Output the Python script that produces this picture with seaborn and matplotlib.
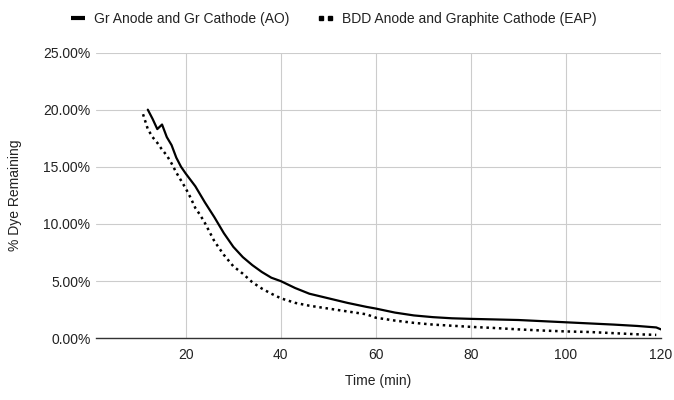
import matplotlib
matplotlib.use("Agg")
import matplotlib.pyplot as plt
import seaborn as sns
import pandas as pd
from matplotlib.lines import Line2D
from matplotlib.legend_handler import HandlerLine2D
from matplotlib.ticker import FuncFormatter

# Data (% dye remaining vs time in minutes)
ao_time = [12, 13, 14, 15, 16, 17, 18, 19, 20, 22, 24, 26, 28, 30, 32, 34, 36, 38, 40,
           43, 46, 50, 54, 58, 60, 64, 68, 72, 76, 80, 85, 90, 95, 100, 105, 110, 115, 119, 120]
ao_values = [20.0, 19.2, 18.3, 18.7, 17.6, 16.9, 15.8, 15.0, 14.4, 13.3, 11.9, 10.6, 9.2, 8.0,
             7.1, 6.4, 5.8, 5.3, 5.0, 4.4, 3.9, 3.5, 3.1, 2.75, 2.6, 2.25, 2.0, 1.85, 1.75, 1.7,
             1.65, 1.6, 1.5, 1.4, 1.3, 1.2, 1.08, 0.95, 0.78]

eap_time = [11, 12, 13, 14, 15, 16, 17, 18, 19, 20, 21, 22, 23, 24, 25, 26, 28, 30, 32, 34,
            36, 38, 40, 43, 46, 50, 54, 58, 60, 64, 68, 72, 76, 80, 85, 90, 95, 100, 105, 110,
            115, 119]
eap_values = [19.6, 18.3, 17.6, 17.1, 16.5, 16.0, 15.3, 14.5, 13.8, 13.1, 12.3, 11.4, 10.8,
              10.1, 9.3, 8.5, 7.3, 6.3, 5.65, 4.9, 4.35, 3.9, 3.5, 3.1, 2.85, 2.6, 2.35, 2.1,
              1.8, 1.55, 1.35, 1.2, 1.1, 1.0, 0.9, 0.78, 0.68, 0.6, 0.55, 0.45, 0.35, 0.3]

series_names = ["Gr Anode and Gr Cathode (AO)", "BDD Anode and Graphite Cathode (EAP)"]
y_ticks = [0, 5, 10, 15, 20, 25]
x_ticks = [20, 40, 60, 80, 100, 120]

sns.set_theme(style="white")
plt.rcParams["font.family"] = ["Liberation Sans", "DejaVu Sans"]

df_ao = pd.DataFrame({"Time": ao_time, "Value": ao_values})
df_eap = pd.DataFrame({"Time": eap_time, "Value": eap_values})

W, H = 674, 400
fig = plt.figure(figsize=(6.74, 4.0), dpi=100)
left, right, top, bottom = 96, 661, 52.5, 338.3
ax = fig.add_axes([left / W, (H - bottom) / H, (right - left) / W, (bottom - top) / H])

sns.lineplot(data=df_ao, x="Time", y="Value", ax=ax, color="black", linewidth=1.6,
             solid_joinstyle="round")
sns.lineplot(data=df_eap, x="Time", y="Value", ax=ax, color="black", linewidth=1.8,
             linestyle=(0, (1, 1.5)))

ax.set_xlim(1.1, 120)
ax.set_ylim(0, 25)
ax.set_xticks(x_ticks)
ax.set_yticks(y_ticks)
ax.yaxis.set_major_formatter(FuncFormatter(lambda v, p: f"{v:.2f}%"))
ax.grid(True, color="#cccccc", linewidth=0.8)
ax.set_axisbelow(True)
for s in ["top", "right", "left"]:
    ax.spines[s].set_visible(False)
ax.spines["bottom"].set_color("#333333")
ax.spines["bottom"].set_linewidth(1.0)
ax.tick_params(axis="both", length=0, labelsize=10, colors="#222222")
ax.tick_params(axis="y", pad=4)
ax.tick_params(axis="x", pad=7)

ax.set_xlabel("Time (min)", fontsize=10, color="#222222")
ax.set_ylabel("% Dye Remaining", fontsize=10, color="#222222")
ax.xaxis.set_label_coords(0.5, (bottom - 381) / (bottom - top))
ax.xaxis.label.set_va("center")
ax.yaxis.set_label_coords((15 - left) / (right - left), 0.5)
ax.yaxis.label.set_va("center")

h_solid = Line2D([0], [0], color="black", linewidth=3, solid_capstyle="butt")
h_dot = Line2D([0], [0], color="black", linestyle="none", marker="s", markersize=3.2)
fig.legend([h_solid, h_dot], series_names, loc="center", bbox_to_anchor=(0.495, 0.9525),
           ncol=2, frameon=False, fontsize=10, handlelength=1.0, handletextpad=0.65,
           columnspacing=2.1, labelcolor="#222222",
           handler_map={h_dot: HandlerLine2D(numpoints=2, marker_pad=0.15)})

fig.savefig("out.png", dpi=100)
